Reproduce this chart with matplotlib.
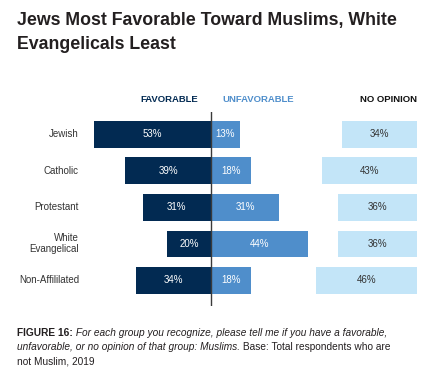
import matplotlib
matplotlib.use("Agg")
import matplotlib.pyplot as plt
import matplotlib.transforms as mtransforms

# ── Data ─────────────────────────────────────────────────────────────────────
groups      = ["Jewish", "Catholic", "Protestant", "White\nEvangelical", "Non-Affililated"]
favorable   = [53, 39, 31, 20, 34]
unfavorable = [13, 18, 31, 44, 18]
no_opinion  = [34, 43, 36, 36, 46]

C_FAV   = "#022a52"
C_UNFAV = "#4f8ecb"
C_NOOP  = "#c3e5f8"
C_TEXT  = "#231f20"

plt.rcParams["font.family"] = ["Liberation Sans", "DejaVu Sans"]

W, H = 434, 380
fig = plt.figure(figsize=(W / 100, H / 100), dpi=100, facecolor="white")


def fx(px):
    return px / W


def fy(py):
    return 1 - py / H


# axes placed in pixel terms of the reference
ax_top, ax_bot = 112, 306
ax = fig.add_axes([fx(90), fy(ax_bot), fx(321 - 90), (ax_bot - ax_top) / H])
ax_no = fig.add_axes([fx(300), fy(ax_bot), fx(417 - 300), (ax_bot - ax_top) / H])

y = list(range(len(groups)))
bar_h = 0.73

ax.barh(y, [-v for v in favorable], height=bar_h, color=C_FAV)
ax.barh(y, unfavorable, height=bar_h, color=C_UNFAV)
ax_no.barh(y, no_opinion, height=bar_h, color=C_NOOP)

ax.set_xlim(-55, 50)
ax_no.set_xlim(117 / 2.2, 0)
for a in (ax, ax_no):
    a.set_ylim(4.70, -0.61)
    a.axis("off")

ax.axvline(0, color="#3a3a3a", lw=1.0)

# value labels
for i in y:
    ax.text(-favorable[i] / 2, i, f"{favorable[i]}%", ha="center", va="center",
            color="white", fontsize=7)
    ax.text(unfavorable[i] / 2, i, f"{unfavorable[i]}%", ha="center", va="center",
            color="white", fontsize=7)
    ax_no.text(no_opinion[i] / 2, i, f"{no_opinion[i]}%", ha="center", va="center",
               color="#333333", fontsize=7)

# category labels
lab_tr = mtransforms.blended_transform_factory(fig.transFigure, ax.transData)
for i, g in enumerate(groups):
    ax.text(fx(79), i, g, transform=lab_tr, ha="right", va="center",
            color="#333333", fontsize=7, linespacing=1.1)

# column headers
fig.text(fx(198), fy(99), "FAVORABLE", ha="right", va="center",
         color=C_FAV, fontsize=6.8, fontweight="bold")
fig.text(fx(222), fy(99), "UNFAVORABLE", ha="left", va="center",
         color=C_UNFAV, fontsize=6.8, fontweight="bold")
fig.text(fx(417), fy(99), "NO OPINION", ha="right", va="center",
         color="#111111", fontsize=6.8, fontweight="bold")

# title
fig.text(fx(17), fy(25.5), "Jews Most Favorable Toward Muslims, White",
         ha="left", va="baseline", color=C_TEXT, fontsize=12.8, fontweight="bold")
fig.text(fx(17), fy(49), "Evangelicals Least",
         ha="left", va="baseline", color=C_TEXT, fontsize=12.8, fontweight="bold")

# footnote with mixed styles
FN = 7.3


def chain(prev, s, **kw):
    return ax.annotate(s, xy=(1, 0), xycoords=prev, ha="left", va="bottom",
                       color=C_TEXT, fontsize=FN, annotation_clip=False, **kw)


t1 = fig.text(fx(17), fy(337.5), "FIGURE 16:", ha="left", va="bottom",
              color=C_TEXT, fontsize=FN, fontweight="bold")
chain(t1, " For each group you recognize, please tell me if you have a favorable,",
      fontstyle="italic")
t2 = fig.text(fx(17), fy(352.5), "unfavorable, or no opinion of that group: Muslims.",
              ha="left", va="bottom", color=C_TEXT, fontsize=FN, fontstyle="italic")
chain(t2, " Base: Total respondents who are")
fig.text(fx(17), fy(367), "not Muslim, 2019", ha="left", va="bottom",
         color=C_TEXT, fontsize=FN)

fig.savefig("out.png", dpi=100, facecolor="white")
